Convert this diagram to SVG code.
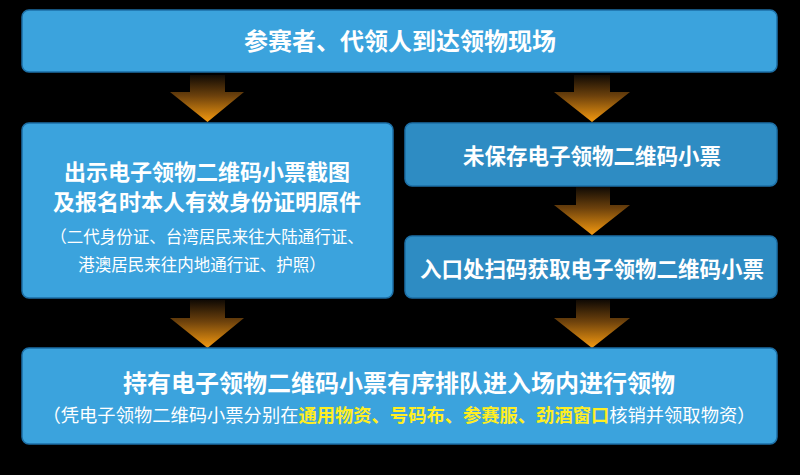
<svg xmlns="http://www.w3.org/2000/svg" width="800" height="475" viewBox="0 0 800 475">
<defs>
<linearGradient id="ag" x1="0" y1="0" x2="0" y2="1">
<stop offset="0" stop-color="#100a04"/>
<stop offset="0.45" stop-color="#6e420c"/>
<stop offset="1" stop-color="#f59a10"/>
</linearGradient>
<style>
.box{fill:#3ba3dd;stroke:#1d6fa6;stroke-width:1.5}
.dark{fill:#2e8cc3;stroke:#1d6fa6;stroke-width:1.5}
.t{font-family:"Noto Sans CJK SC","Noto Sans",sans-serif;fill:#ffffff;text-anchor:middle}
.b{font-weight:bold}
.y{fill:#ffee22;font-weight:bold}
.arr{fill:url(#ag)}
</style>
</defs>
<rect width="800" height="475" fill="#000000"/>
<g id="connectors">
<path class="arr" d="M190,75 H225 V92 H244 L207.5,122 L170,92 H190 Z"/>
<path class="arr" d="M574,75 H610 V92 H630 L592,122 L554,92 H574 Z"/>
<path class="arr" d="M576,187 H610 V205 H630 L592,235 L554,205 H576 Z"/>
<path class="arr" d="M190,300 H225 V318 H244 L207.5,348 L170,318 H190 Z"/>
<path class="arr" d="M576,300 H610 V318 H630 L592,348 L554,318 H576 Z"/>
</g>
<g id="n1">
<rect class="box" x="22" y="10" width="755" height="62" rx="7"/>
<text class="t b" x="400" y="50" font-size="24">参赛者、代领人到达领物现场</text>
</g>
<g id="n2">
<rect class="box" x="22" y="123" width="371" height="175" rx="7"/>
<text class="t b" x="207" y="180" font-size="22">出示电子领物二维码小票截图</text>
<text class="t b" x="207" y="210" font-size="22">及报名时本人有效身份证明原件</text>
<text class="t" x="207" y="243" font-size="16.5">（二代身份证、台湾居民来往大陆通行证、</text>
<text class="t" x="202" y="271" font-size="16.5">港澳居民来往内地通行证、护照）</text>
</g>
<g id="n3">
<rect class="dark" x="405" y="123" width="372" height="63" rx="7"/>
<text class="t b" x="592" y="164" font-size="21.5">未保存电子领物二维码小票</text>
</g>
<g id="n4">
<rect class="dark" x="405" y="236" width="372" height="62" rx="7"/>
<text class="t b" x="592" y="277" font-size="21.5">入口处扫码获取电子领物二维码小票</text>
</g>
<g id="n5">
<rect class="box" x="22" y="348" width="755" height="96" rx="7"/>
<text class="t b" x="399" y="392" font-size="24">持有电子领物二维码小票有序排队进入场内进行领物</text>
<text class="t" x="399" y="422" font-size="18.3">（凭电子领物二维码小票分别在<tspan class="y">通用物资、号码布、参赛服、劲酒窗口</tspan>核销并领取物资）</text>
</g>
</svg>
